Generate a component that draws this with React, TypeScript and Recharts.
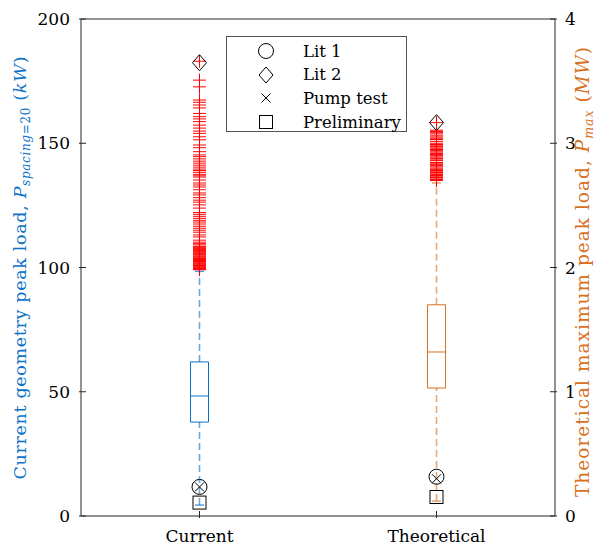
import { ComposedChart, Line, XAxis, YAxis, ReferenceLine } from 'recharts'

// categories and the two y scales
const categories = ['Current', 'Theoretical']
const leftTicks = [0, 50, 100, 150, 200] // kW
const rightTicks = [0, 1, 2, 3, 4] // MW
const categoryX = [1, 2]

// box statistics: Current in kW (left axis), Theoretical in MW (right axis)
const boxQ1 = [37.8, 1.03]
const boxMedian = [48.3, 1.32]
const boxQ3 = [62.0, 1.7]
const whiskerLow = [4.4, 0.12]
const whiskerHigh = [98.5, 2.68]

// reference values
const lit1 = [11.7, 0.316]
const lit2 = [182.4, 3.166]
const pumpTest = [11.7, 0.3]
const preliminary = [5.4, 0.153]

// outliers
const currentOutliers = [
  183.0, 175.4, 172.7, 167.4, 166.5, 165.4, 164.2, 162.0, 160.7, 159.8, 158.7, 157.3,
  156.1, 154.9, 154.0, 152.6, 151.4, 149.3, 148.2, 146.6, 145.3, 144.6, 143.7, 142.8,
  142.0, 141.2, 140.4, 139.6, 139.0, 138.3, 137.5, 136.9, 136.4, 135.2, 134.0, 133.2,
  132.4, 131.3, 130.0, 129.2, 128.1, 127.1, 126.3, 125.2, 123.9, 122.1, 121.4, 120.6,
  119.8, 119.0, 118.3, 117.5, 116.6, 115.8, 115.0, 114.2, 113.1, 112.3, 111.0, 110.2,
  109.6, 109.1, 108.5, 108.0, 107.6, 107.2, 106.8, 106.5, 106.1, 105.7, 105.3, 105.0,
  104.6, 104.3, 103.9, 103.6, 103.2, 102.8, 102.4, 102.1, 101.7, 101.4, 101.1, 100.8,
  100.5, 100.2, 99.9, 99.6, 99.3, 99.1,
]
const theoreticalOutliers = [
  3.166, 3.105, 3.095, 3.085, 3.075, 3.06, 3.05, 3.04, 3.03, 3.015, 3.0, 2.99, 2.985,
  2.975, 2.97, 2.96, 2.95, 2.945, 2.94, 2.93, 2.92, 2.915, 2.91, 2.9, 2.89, 2.88,
  2.875, 2.865, 2.86, 2.845, 2.84, 2.83, 2.82, 2.81, 2.8, 2.79, 2.785, 2.78, 2.77,
  2.765, 2.76, 2.75, 2.745, 2.74, 2.73, 2.725, 2.72, 2.71, 2.705, 2.7,
]
const outliers = [currentOutliers, theoreticalOutliers]

const legendItems = ['Lit 1', 'Lit 2', 'Pump test', 'Preliminary']

const FONT = '"DejaVu Serif", serif'
const AXIS = '#262626'
const BLUE = '#0A72C8'
const ORANGE = '#D7701F'
const colors = [BLUE, ORANGE]
const axisIds = ['left', 'right']
const BOX_HALF = 0.038
const CAP_HALF = 0.019

const pts = (arr: [number, number][]) => arr.map(([x, y]) => ({ x, y }))

const Plus = (p: any) =>
  p.cx == null ? <g /> : (
    <g stroke="#FF0000" strokeWidth={1}>
      <line x1={p.cx - 6.5} x2={p.cx + 6.5} y1={p.cy} y2={p.cy} />
      <line x1={p.cx} x2={p.cx} y1={p.cy - 6.5} y2={p.cy + 6.5} />
    </g>
  )
const Circle = (p: any) =>
  p.cx == null ? <g /> : <circle cx={p.cx} cy={p.cy} r={7.5} fill="none" stroke="#000" strokeWidth={1} />
const Diamond = (p: any) =>
  p.cx == null ? <g /> : (
    <path d={`M${p.cx},${p.cy - 8}L${p.cx + 7},${p.cy}L${p.cx},${p.cy + 8}L${p.cx - 7},${p.cy}Z`} fill="none" stroke="#000" strokeWidth={1} />
  )
const Cross = (p: any) =>
  p.cx == null ? <g /> : (
    <g stroke="#000" strokeWidth={1}>
      <line x1={p.cx - 4.5} x2={p.cx + 4.5} y1={p.cy - 4.5} y2={p.cy + 4.5} />
      <line x1={p.cx - 4.5} x2={p.cx + 4.5} y1={p.cy + 4.5} y2={p.cy - 4.5} />
    </g>
  )
const Square = (p: any) =>
  p.cx == null ? <g /> : <rect x={p.cx - 6.5} y={p.cy - 6.5} width={13} height={13} fill="none" stroke="#000" strokeWidth={1} />

const markerSets = [
  { values: lit1, shape: Circle },
  { values: lit2, shape: Diamond },
  { values: pumpTest, shape: Cross },
  { values: preliminary, shape: Square },
]

const LeftTick = ({ x, y, payload }: any) => (
  <g>
    <line x1={x} x2={x + 7} y1={y} y2={y} stroke={AXIS} />
    <text x={x - 9} y={y} dy="0.36em" textAnchor="end" fontFamily={FONT} fontSize={17} fill="#000">{payload.value}</text>
  </g>
)
const RightTick = ({ x, y, payload }: any) => (
  <g>
    <line x1={x} x2={x - 7} y1={y} y2={y} stroke={AXIS} />
    <text x={x + 8} y={y} dy="0.36em" textAnchor="start" fontFamily={FONT} fontSize={17} fill="#000">{payload.value}</text>
  </g>
)
const BottomTick = ({ x, y, payload }: any) => (
  <g>
    <line x1={x} x2={x} y1={y} y2={y - 7} stroke={AXIS} />
    <text x={x} y={y + 24} textAnchor="middle" fontFamily={FONT} fontSize={17} fill="#000">{categories[payload.value - 1]}</text>
  </g>
)
const TopTick = ({ x, y }: any) => <line x1={x} x2={x} y1={y} y2={y + 7} stroke={AXIS} />

const LeftTitle = () => (
  <text transform="translate(26,268) rotate(-90)" textAnchor="middle" fontFamily={FONT} fontSize={17.5} fill={BLUE} textLength={423} lengthAdjust="spacing">
    Current geometry peak load, <tspan fontStyle="italic">P</tspan>
    <tspan fontSize={12} dy={4} fontStyle="italic">spacing</tspan>
    <tspan fontSize={12}>=20</tspan>
    <tspan dy={-4}> (</tspan><tspan fontStyle="italic">kW</tspan>)
  </text>
)
const RightTitle = () => (
  <text transform="translate(589,272) rotate(-90)" textAnchor="middle" fontFamily={FONT} fontSize={18.5} fill={ORANGE} textLength={450} lengthAdjust="spacing">
    Theoretical maximum peak load, <tspan fontStyle="italic">P</tspan>
    <tspan fontSize={12.5} dy={4} fontStyle="italic">max</tspan>
    <tspan dy={-4}> (</tspan><tspan fontStyle="italic">MW</tspan>)
  </text>
)

function LegendBox() {
  const icons = [Circle, Diamond, Cross, Square]
  return (
    <div style={{ position: 'absolute', left: 226, top: 36, width: 179, height: 94, border: '1px solid #555', background: '#fff', fontFamily: FONT, fontSize: 16.5 }}>
      {legendItems.map((name, i) => {
        const Icon = icons[i]
        return (
          <div key={name} style={{ position: 'absolute', left: 0, top: 3 + i * 23.7, height: 22, display: 'flex', alignItems: 'center' }}>
            <svg width={60} height={22} style={{ display: 'block' }}>
              <Icon cx={39} cy={11} />
            </svg>
            <span style={{ marginLeft: 16, whiteSpace: 'nowrap' }}>{name}</span>
          </div>
        )
      })}
    </div>
  )
}

export default function App() {
  const boxLines = categoryX.flatMap((cx, i) => {
    const yAxisId = axisIds[i]
    const color = colors[i]
    const common = { yAxisId, dataKey: 'y', stroke: color, strokeWidth: 1, dot: false, activeDot: false, isAnimationActive: false }
    return [
      <Line key={'wu' + cx} {...common} strokeWidth={1.6} strokeOpacity={0.6} strokeDasharray="7 4" data={pts([[cx, boxQ3[i]], [cx, whiskerHigh[i]]])} />,
      <Line key={'wl' + cx} {...common} strokeWidth={1.6} strokeOpacity={0.6} strokeDasharray="7 4" data={pts([[cx, whiskerLow[i]], [cx, boxQ1[i]]])} />,
      <Line key={'cl' + cx} {...common} data={pts([[cx - CAP_HALF, whiskerLow[i]], [cx + CAP_HALF, whiskerLow[i]]])} />,
      <Line key={'cu' + cx} {...common} data={pts([[cx - CAP_HALF, whiskerHigh[i]], [cx + CAP_HALF, whiskerHigh[i]]])} />,
      <Line
        key={'box' + cx}
        {...common}
        data={pts([[cx - BOX_HALF, boxQ1[i]], [cx + BOX_HALF, boxQ1[i]], [cx + BOX_HALF, boxQ3[i]], [cx - BOX_HALF, boxQ3[i]], [cx - BOX_HALF, boxQ1[i]]])}
      />,
      <Line key={'med' + cx} {...common} data={pts([[cx - BOX_HALF, boxMedian[i]], [cx + BOX_HALF, boxMedian[i]]])} />,
    ]
  })

  return (
    <div style={{ position: 'relative', width: 599, height: 545 }}>
      <style>{'body{margin:0}'}</style>
      <ComposedChart width={599} height={545} margin={{ top: 19, right: 0, bottom: 0, left: 0 }}>
        <XAxis dataKey="x" type="number" domain={[0.5, 2.5]} ticks={categoryX} allowDataOverflow height={29} tickSize={0} axisLine={{ stroke: AXIS }} tickLine={false} tick={BottomTick} interval={0} />
        <XAxis xAxisId="top" orientation="top" dataKey="x" type="number" domain={[0.5, 2.5]} ticks={categoryX} allowDataOverflow height={0} tickSize={0} axisLine={{ stroke: AXIS }} tickLine={false} tick={TopTick} interval={0} />
        <YAxis yAxisId="left" dataKey="y" type="number" domain={[0, 200]} ticks={leftTicks} allowDataOverflow width={81} tickSize={0} axisLine={{ stroke: AXIS }} tickLine={false} tick={LeftTick} interval={0} label={{ content: LeftTitle }} />
        <YAxis yAxisId="right" orientation="right" dataKey="y" type="number" domain={[0, 4]} ticks={rightTicks} allowDataOverflow width={44} tickSize={0} axisLine={{ stroke: AXIS }} tickLine={false} tick={RightTick} interval={0} label={{ content: RightTitle }} />
        {boxLines}
        {categoryX.map((cx, i) => (
          <Line key={'out' + cx} yAxisId={axisIds[i]} data={outliers[i].map((v) => ({ x: cx, y: v }))} dataKey="y" stroke="none" dot={Plus} activeDot={false} isAnimationActive={false} />
        ))}
        {markerSets.map((m, j) =>
          categoryX.map((cx, i) => (
            <Line key={'m' + j + '-' + cx} yAxisId={axisIds[i]} data={[{ x: cx, y: m.values[i] }]} dataKey="y" stroke="none" dot={m.shape} activeDot={false} isAnimationActive={false} />
          ))
        )}
        <ReferenceLine yAxisId="left" y={200} stroke={AXIS} ifOverflow="visible" />
      </ComposedChart>
      <LegendBox />
    </div>
  )
}
